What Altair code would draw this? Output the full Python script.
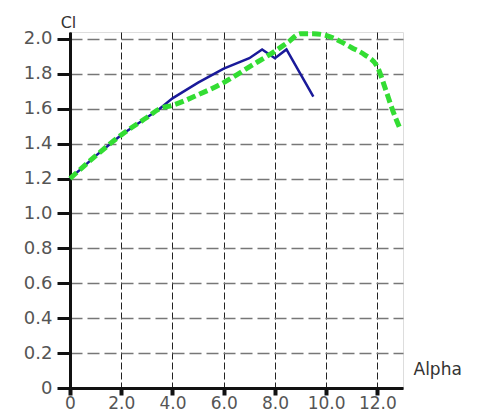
import altair as alt
import pandas as pd

blue_alpha = [0, 1, 2, 3, 3.5, 4, 5, 6, 6.5, 7, 7.5, 8.0, 8.45, 9.5]
blue_cl = [1.2, 1.33, 1.45, 1.55, 1.6, 1.66, 1.75, 1.83, 1.86, 1.89, 1.94, 1.89, 1.94, 1.67]

green_alpha = [0, 1, 2, 3, 3.5, 4, 5, 6, 7, 8, 8.5, 9, 9.5, 10, 10.5, 11, 11.5, 12, 12.3, 12.6, 12.9]
green_cl = [1.2, 1.33, 1.45, 1.55, 1.6, 1.62, 1.68, 1.75, 1.84, 1.93, 1.98, 2.03, 2.03, 2.02, 1.99, 1.95, 1.91, 1.84, 1.72, 1.59, 1.48]

x_ticks = [0, 2, 4, 6, 8, 10, 12]
y_ticks = [0, 0.2, 0.4, 0.6, 0.8, 1.0, 1.2, 1.4, 1.6, 1.8, 2.0]

blue_df = pd.DataFrame({"alpha": blue_alpha, "cl": blue_cl, "s": "blue"})
green_df = pd.DataFrame({"alpha": green_alpha, "cl": green_cl, "s": "green"})

label_expr = "datum.value == 0 ? '0' : format(datum.value, '.1f')"

x_enc = alt.X(
    "alpha:Q",
    scale=alt.Scale(domain=[0, 13], nice=False, zero=False),
    axis=alt.Axis(
        values=x_ticks,
        labelExpr=label_expr,
        labelOverlap=False,
        title="Alpha",
        titleX=343,
        titleY=-19,
        titleAlign="left",
        titleBaseline="middle",
        titleFontWeight="normal",
        titleFontSize=17,
        titleColor="#333333",
        titleFont="DejaVu Sans",
        labelFont="DejaVu Sans",
        labelFontSize=17,
        labelColor="#555555",
        labelPadding=0,
        labelFlush=False,
        domainColor="#111111",
        domainWidth=3,
        tickColor="#111111",
        tickWidth=4,
        tickSize=7,
        grid=True,
        gridColor="#222222",
        gridWidth=1,
        gridDash=[7, 3],
    ),
)

y_enc = alt.Y(
    "cl:Q",
    scale=alt.Scale(domain=[0, 2.04], nice=False, zero=False),
    axis=alt.Axis(
        values=y_ticks,
        labelExpr=label_expr,
        labelOverlap=False,
        title="Cl",
        titleAngle=0,
        titleX=-2,
        titleY=-10,
        titleAlign="center",
        titleBaseline="middle",
        titleFontWeight="normal",
        titleFontSize=16,
        titleColor="#333333",
        titleFont="DejaVu Sans",
        labelFont="DejaVu Sans",
        labelFontSize=18,
        labelColor="#555555",
        labelPadding=5,
        labelFlush=False,
        domainColor="#111111",
        domainWidth=3,
        tickColor="#111111",
        tickWidth=3,
        tickSize=13,
        grid=True,
        gridColor="#777777",
        gridWidth=1.5,
        gridDash=[12, 5],
    ),
)

blue = alt.Chart(blue_df).mark_line(color="#1a1a9a", strokeWidth=2.5).encode(
    x=x_enc, y=y_enc, order="alpha:Q"
)
green = alt.Chart(green_df).mark_line(
    color="#33dd33", strokeWidth=5, strokeDash=[9, 4], interpolate="monotone"
).encode(x=x_enc, y=y_enc, order="alpha:Q")

chart = (
    alt.layer(blue, green)
    .properties(
        width=333,
        height=356,
        padding={"left": 62, "top": 24, "right": 70, "bottom": 26},
        autosize=alt.AutoSizeParams(type="none"),
    )
    .configure_view(stroke=None)
    .configure(background="white")
)

chart.save("out.html", embed_options={"renderer": "svg", "actions": False})
